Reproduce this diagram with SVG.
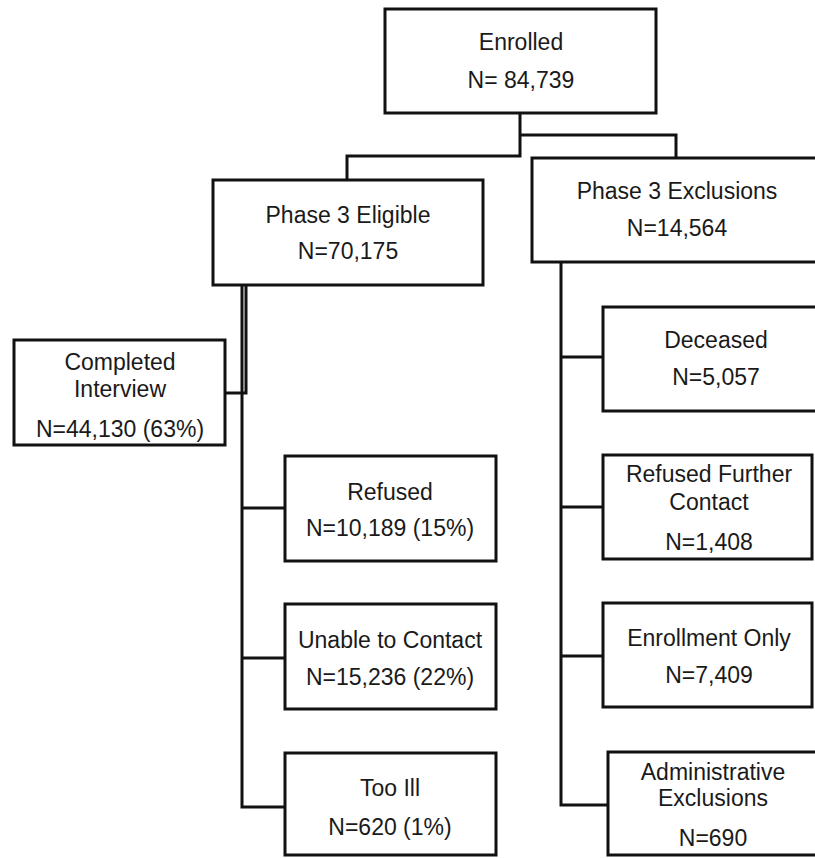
<svg xmlns="http://www.w3.org/2000/svg" width="815" height="858" viewBox="0 0 815 858">
<style>
.box{fill:#fff;stroke:#111;stroke-width:3}
.ln{fill:none;stroke:#111;stroke-width:3}
text{font-family:"Liberation Sans",Arial,sans-serif;font-size:23px;fill:#1a1a1a;text-anchor:middle}
</style>
<rect width="815" height="858" fill="#fff"/>
<g id="connectors">
<path class="ln" d="M520,113 V157.5 M520,135 H676 V158 M520,156 H347 V180"/>
<path class="ln" d="M242,285 V807 H285 M242,508 H285 M242,658 H285 M246,285 V393 H225"/>
<path class="ln" d="M561,262 V805 H608 M561,357 H603 M561,507 H603 M561,656 H603"/>
</g>
<g id="enrolled"><rect class="box" x="385" y="9" width="271" height="104"/><text x="521" y="50">Enrolled</text><text x="521" y="88">N= 84,739</text></g>
<g id="eligible"><rect class="box" x="213" y="180" width="270" height="105"/><text x="348" y="223">Phase 3 Eligible</text><text x="348" y="259">N=70,175</text></g>
<g id="exclusions"><rect class="box" x="532" y="158" width="300" height="104"/><text x="677" y="199">Phase 3 Exclusions</text><text x="677" y="236">N=14,564</text></g>
<g id="completed"><rect class="box" x="14" y="340" width="211" height="105"/><text x="120" y="370">Completed</text><text x="120" y="397">Interview</text><text x="120" y="437">N=44,130 (63%)</text></g>
<g id="refused"><rect class="box" x="285" y="456" width="211" height="105"/><text x="390" y="500">Refused</text><text x="390" y="536">N=10,189 (15%)</text></g>
<g id="unable"><rect class="box" x="285" y="604" width="211" height="105"/><text x="390" y="648">Unable to Contact</text><text x="390" y="685">N=15,236 (22%)</text></g>
<g id="tooill"><rect class="box" x="285" y="753" width="211" height="102"/><text x="390" y="796">Too Ill</text><text x="390" y="835">N=620 (1%)</text></g>
<g id="deceased"><rect class="box" x="603" y="307" width="225" height="104"/><text x="716" y="348">Deceased</text><text x="716" y="385">N=5,057</text></g>
<g id="refusedfurther"><rect class="box" x="603" y="455" width="209" height="104"/><text x="709" y="482">Refused Further</text><text x="709" y="510">Contact</text><text x="709" y="550">N=1,408</text></g>
<g id="enrollmentonly"><rect class="box" x="603" y="603" width="209" height="104"/><text x="709" y="646">Enrollment Only</text><text x="709" y="683">N=7,409</text></g>
<g id="administrative"><rect class="box" x="608" y="752" width="220" height="103"/><text x="713" y="780">Administrative</text><text x="713" y="806">Exclusions</text><text x="713" y="846">N=690</text></g>
</svg>
